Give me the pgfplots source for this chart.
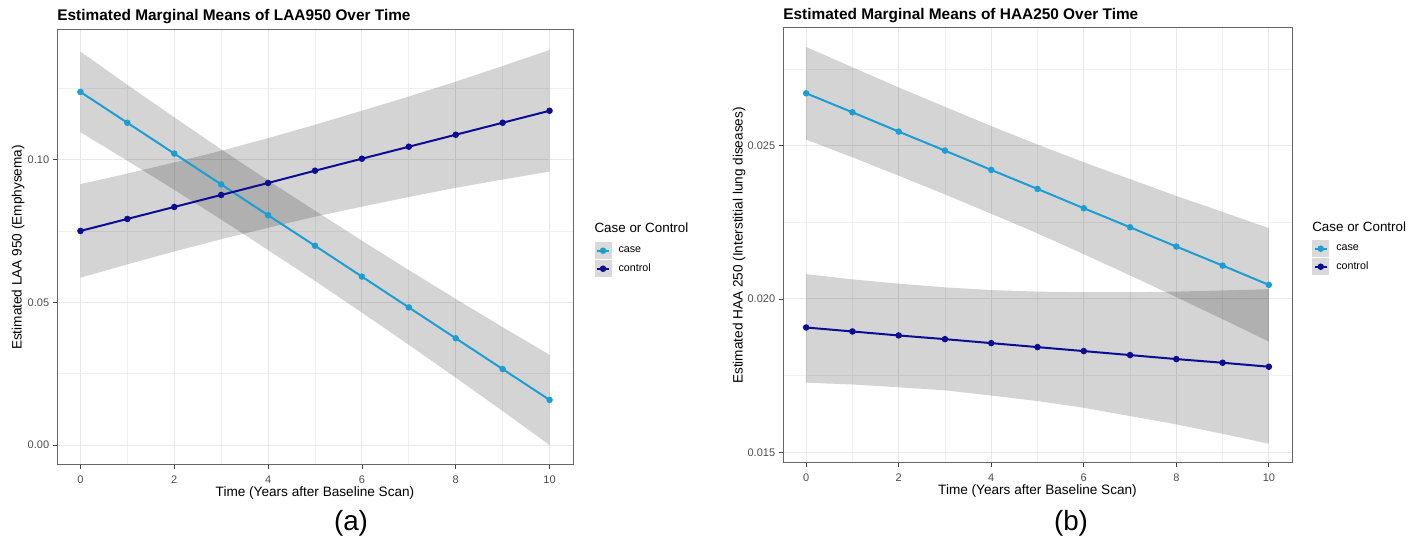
\documentclass[border=0pt]{standalone}
\usepackage{pgfplots}
\pgfplotsset{compat=1.18}
\usepackage{pgfplotstable}
\usepackage{fontspec}
\setmainfont{Liberation Sans}

\definecolor{casecol}{HTML}{1C9ED3}
\definecolor{ctrlcol}{HTML}{0D0D94}

% fitted means (years, estimate)
\pgfplotstableread{
t  case   ctrl
0  .1237  .0750
1  .1129  .0792
2  .1021  .0834
3  .0913  .0876
4  .0805  .0918
5  .0698  .0961
6  .0590  .1003
7  .0482  .1045
8  .0374  .1087
9  .0266  .1129
10 .0158  .1171
}\laa
\pgfplotstableread{
t  case    ctrl
0  .02671  .01907
1  .02609  .01894
2  .02546  .01881
3  .02484  .01869
4  .02421  .01856
5  .02359  .01843
6  .02296  .01830
7  .02234  .01817
8  .02171  .01804
9  .02109  .01792
10 .02046  .01779
}\haa

\tikzset{legtitle/.style={anchor=west, inner sep=0pt, font=\fontsize{6.7}{8}\selectfont}}

\pgfplotsset{
  every axis title/.style={at={(axis description cs:0,1)}, anchor=base west,
    inner sep=0pt, font=\bfseries\fontsize{7.7}{9}\selectfont},
  emm/.style={
    scale only axis, anchor=south west, height=217.5pt,
    clip=false,
    xmin=-0.5, xmax=10.5,
    xtick={0,2,4,6,8,10}, minor xtick={1,3,5,7,9},
    scaled y ticks=false,
    tick pos=left, tick align=outside,
    major tick length=2pt, minor tick length=0pt,
    tick style={black!75, line width=0.4pt},
    axis line style={black!60, line width=0.5pt},
    xmajorgrids, ymajorgrids, xminorgrids, yminorgrids,
    major grid style={black!9, line width=0.5pt},
    minor grid style={black!6, line width=0.35pt},
    /pgf/number format/assume math mode=true,
    tick label style={font=\fontsize{5.5}{6}\selectfont, text=black!70},
    yticklabel style={xshift=1.6pt},
    label style={font=\fontsize{6.8}{8}\selectfont},
    xlabel={Time (Years after Baseline Scan)},
    xlabel style={at={(axis description cs:0.5,-0.065)}, anchor=center},
    legend style={draw=none, fill=none, anchor=north west, inner sep=0pt,
      font=\fontsize{5.35}{6}\selectfont, row sep=0.5pt, column sep=3.5pt,
      nodes={inner sep=0pt}},
    legend cell align=left,
    legend image code/.code={
      \fill[black!15] (0pt,-3.75pt) rectangle (7.5pt,3.75pt);
      \draw[mark repeat=2,mark phase=2,#1] plot coordinates {(0.8pt,0pt) (3.75pt,0pt) (6.7pt,0pt)};
    },
  },
  band/.style={fill=black, fill opacity=0.17, draw=none, forget plot},
  caseline/.style={casecol, line width=1pt, mark=*, mark size=1.1pt},
  ctrlline/.style={ctrlcol, line width=1pt, mark=*, mark size=1.1pt},
}

\begin{document}
\begin{tikzpicture}

\begin{axis}[emm,
  at={(28.5pt,39.5pt)}, width=258pt,
  ymin=-0.0070, ymax=0.1454,
  ytick={0,0.05,0.10}, yticklabels={0.00,0.05,0.10},
  minor ytick={0.025,0.075,0.125},
  ylabel={Estimated LAA 950 (Emphysema)},
  ylabel style={at={(axis description cs:-0.0756,0.5)}, anchor=center},
  title={Estimated Marginal Means of LAA950 Over Time},
  title style={yshift=4.75pt},
  legend style={at={(axis description cs:1.041,0.513)}},
]
% 95% CI ribbons: upper edge, then lower edge back
\addplot[band] coordinates {(0,.1378)(1,.1262)(2,.1148)(3,.1036)(4,.0927)(5,.0821)(6,.0716)(7,.0613)(8,.0512)(9,.0413)(10,.0316)
  (10,.0000)(9,.0119)(8,.0236)(7,.0351)(6,.0464)(5,.0575)(4,.0683)(3,.0790)(2,.0894)(1,.0996)(0,.1096)} -- cycle;
\addplot[band] coordinates {(0,.0914)(1,.0951)(2,.0990)(3,.1031)(4,.1075)(5,.1122)(6,.1171)(7,.1221)(8,.1273)(9,.1328)(10,.1384)
  (10,.0958)(9,.0930)(8,.0901)(7,.0869)(6,.0835)(5,.0800)(4,.0761)(3,.0721)(2,.0678)(1,.0633)(0,.0586)} -- cycle;
\addplot[caseline] table[x=t, y=case] {\laa};
\addlegendentry{case}
\addplot[ctrlline] table[x=t, y=ctrl] {\laa};
\addlegendentry{control}
\node[legtitle] at (axis description cs:1.041,0.545) {Case or Control};
\end{axis}

\begin{axis}[emm,
  at={(391.5pt,40.5pt)}, width=254.5pt,
  ymin=0.01465, ymax=0.02884,
  ytick={0.015,0.020,0.025}, yticklabels={0.015,0.020,0.025},
  minor ytick={0.0175,0.0225,0.0275},
  ylabel={Estimated HAA 250 (Interstitial lung diseases)},
  ylabel style={at={(axis description cs:-0.0864,0.5)}, anchor=center},
  title={Estimated Marginal Means of HAA250 Over Time},
  title style={yshift=4pt},
  legend style={at={(axis description cs:1.039,0.513)}},
]
\addplot[band] coordinates {(0,.02822)(1,.02756)(2,.02690)(3,.02627)(4,.02564)(5,.02504)(6,.02446)(7,.02391)(8,.02336)(9,.02284)(10,.02231)
  (10,.01861)(9,.01934)(8,.02006)(7,.02077)(6,.02146)(5,.02214)(4,.02278)(3,.02341)(2,.02402)(1,.02462)(0,.02520)} -- cycle;
\addplot[band] coordinates {(0,.02081)(1,.02064)(2,.02050)(3,.02038)(4,.02029)(5,.02024)(6,.02022)(7,.02022)(8,.02024)(9,.02028)(10,.02032)
  (10,.01528)(9,.01560)(8,.01591)(7,.01618)(6,.01645)(5,.01667)(4,.01685)(3,.01702)(2,.01712)(1,.01721)(0,.01727)} -- cycle;
\addplot[caseline] table[x=t, y=case] {\haa};
\addlegendentry{case}
\addplot[ctrlline] table[x=t, y=ctrl] {\haa};
\addlegendentry{control}
\node[legtitle] at (axis description cs:1.039,0.543) {Case or Control};
\end{axis}

\node[anchor=base, font=\fontsize{13.9}{16}\selectfont] at (175.5pt,6.5pt) {(a)};
\node[anchor=base, font=\fontsize{13.9}{16}\selectfont] at (535.5pt,6.5pt) {(b)};
\path (0,0) rectangle (712pt,272pt);
\end{tikzpicture}
\end{document}
